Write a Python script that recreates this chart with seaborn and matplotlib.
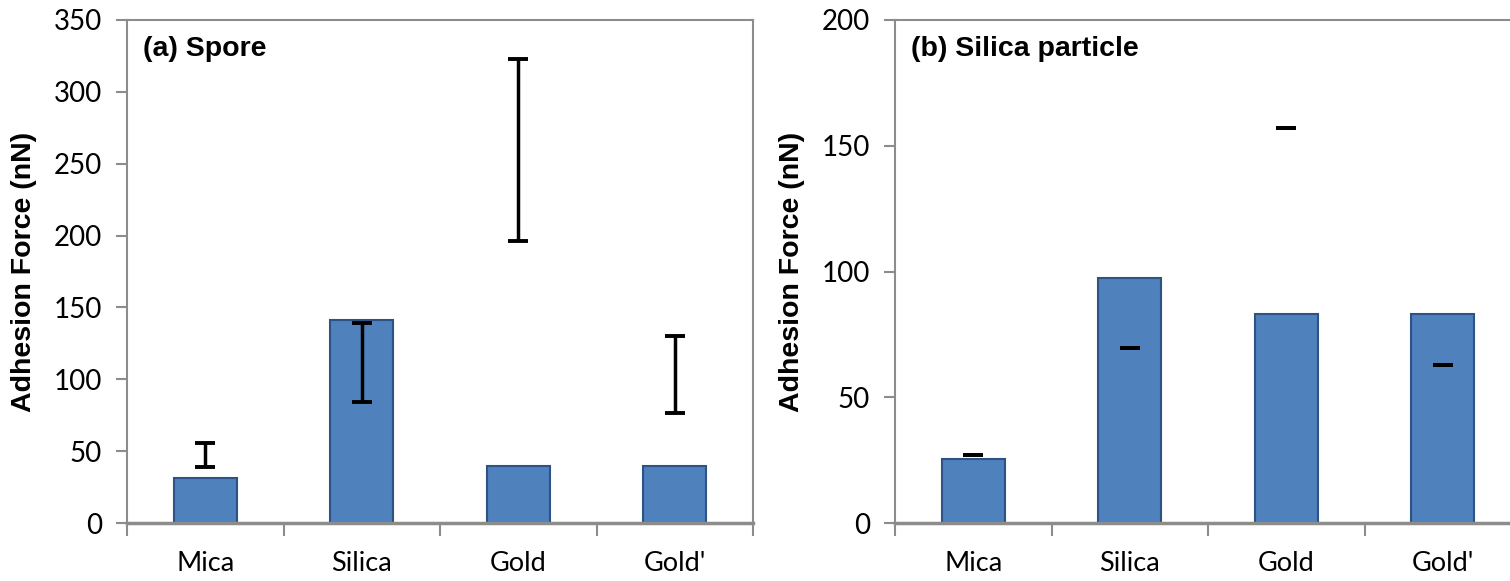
import matplotlib
matplotlib.use("Agg")
import matplotlib.pyplot as plt
import seaborn as sns
import pandas as pd
import numpy as np

categories = ["Mica", "Silica", "Gold", "Gold'"]

# (a) Spore
spore_force = [31.0, 141.5, 39.5, 39.5]
spore_err_low = [39.0, 84.5, 196.0, 76.5]
spore_err_high = [56.0, 139.0, 323.0, 130.0]

# (b) Silica particle
silica_force = [25.4, 97.3, 83.0, 83.0]
silica_err_low = [27.1, 69.4, 157.0, 62.7]
silica_err_high = [27.1, 69.4, 157.0, 62.7]

panel_titles = ["(a) Spore", "(b) Silica particle"]
y_maxes = [350, 200]
y_label = "Adhesion Force (nN)"

sns.set_theme(style="white")
plt.rcParams["font.family"] = ["Lato", "DejaVu Sans"]
plt.rcParams["text.color"] = "black"
plt.rcParams["xtick.color"] = "black"
plt.rcParams["ytick.color"] = "black"
plt.rcParams["axes.labelcolor"] = "black"

BAR = "#4F81BD"
EDGE = "#2C5286"
GRAY = "#8C8C8C"

fig = plt.figure(figsize=(15.10, 5.81), dpi=100)
W, H = 1510, 581
ax_left = fig.add_axes([127 / W, (H - 523) / H, 626 / W, 503 / H])
ax_right = fig.add_axes([895 / W, (H - 523) / H, 626 / W, 503 / H])

panels = [
    (ax_left, spore_force, spore_err_low, spore_err_high),
    (ax_right, silica_force, silica_err_low, silica_err_high),
]

for i, (ax, force, lo, hi) in enumerate(panels):
    df = pd.DataFrame({"Surface": categories, "Force": force})
    sns.barplot(data=df, x="Surface", y="Force", ax=ax, color=BAR,
                width=0.4, edgecolor=EDGE, linewidth=1.5, saturation=1)
    lo = np.array(lo)
    hi = np.array(hi)
    mid = (lo + hi) / 2
    yerr = np.vstack([mid - lo, hi - mid])
    ax.errorbar(np.arange(len(categories)), mid, yerr=yerr, fmt="none",
                ecolor="black", elinewidth=2.5, capsize=7.2, capthick=2.8,
                zorder=5)
    ax.set_xlim(-0.5, len(categories) - 0.5)
    ax.set_ylim(0, y_maxes[i])
    ax.set_yticks(np.arange(0, y_maxes[i] + 1, 50))
    ax.set_xlabel("")
    ax.set_ylabel(y_label, fontsize=20.5, fontweight="bold",
                  family=["Liberation Sans", "DejaVu Sans"])
    ax.yaxis.set_label_coords(-0.143, 0.5)
    for side in ["top", "right", "left", "bottom"]:
        ax.spines[side].set_visible(True)
        ax.spines[side].set_color(GRAY)
        ax.spines[side].set_linewidth(1.5)
    ax.spines["bottom"].set_linewidth(2.5)
    ax.tick_params(axis="y", which="major", direction="out", length=8,
                   width=1.5, color=GRAY, labelsize=20, pad=10,
                   left=True, labelcolor="black")
    ax.tick_params(axis="x", which="major", length=0, labelsize=19.5, pad=20,
                   labelcolor="black")
    ax.set_xticks(np.arange(-0.5, len(categories), 1.0), minor=True)
    ax.tick_params(axis="x", which="minor", direction="out", length=9,
                   width=1.5, color=GRAY, bottom=True)
    ax.text(0.026, 0.968, panel_titles[i], transform=ax.transAxes,
            ha="left", va="top", fontsize=20.5, fontweight="bold",
            color="black", family=["Liberation Sans", "DejaVu Sans"])
    ax.grid(False)

fig.savefig("out.png", dpi=100)
